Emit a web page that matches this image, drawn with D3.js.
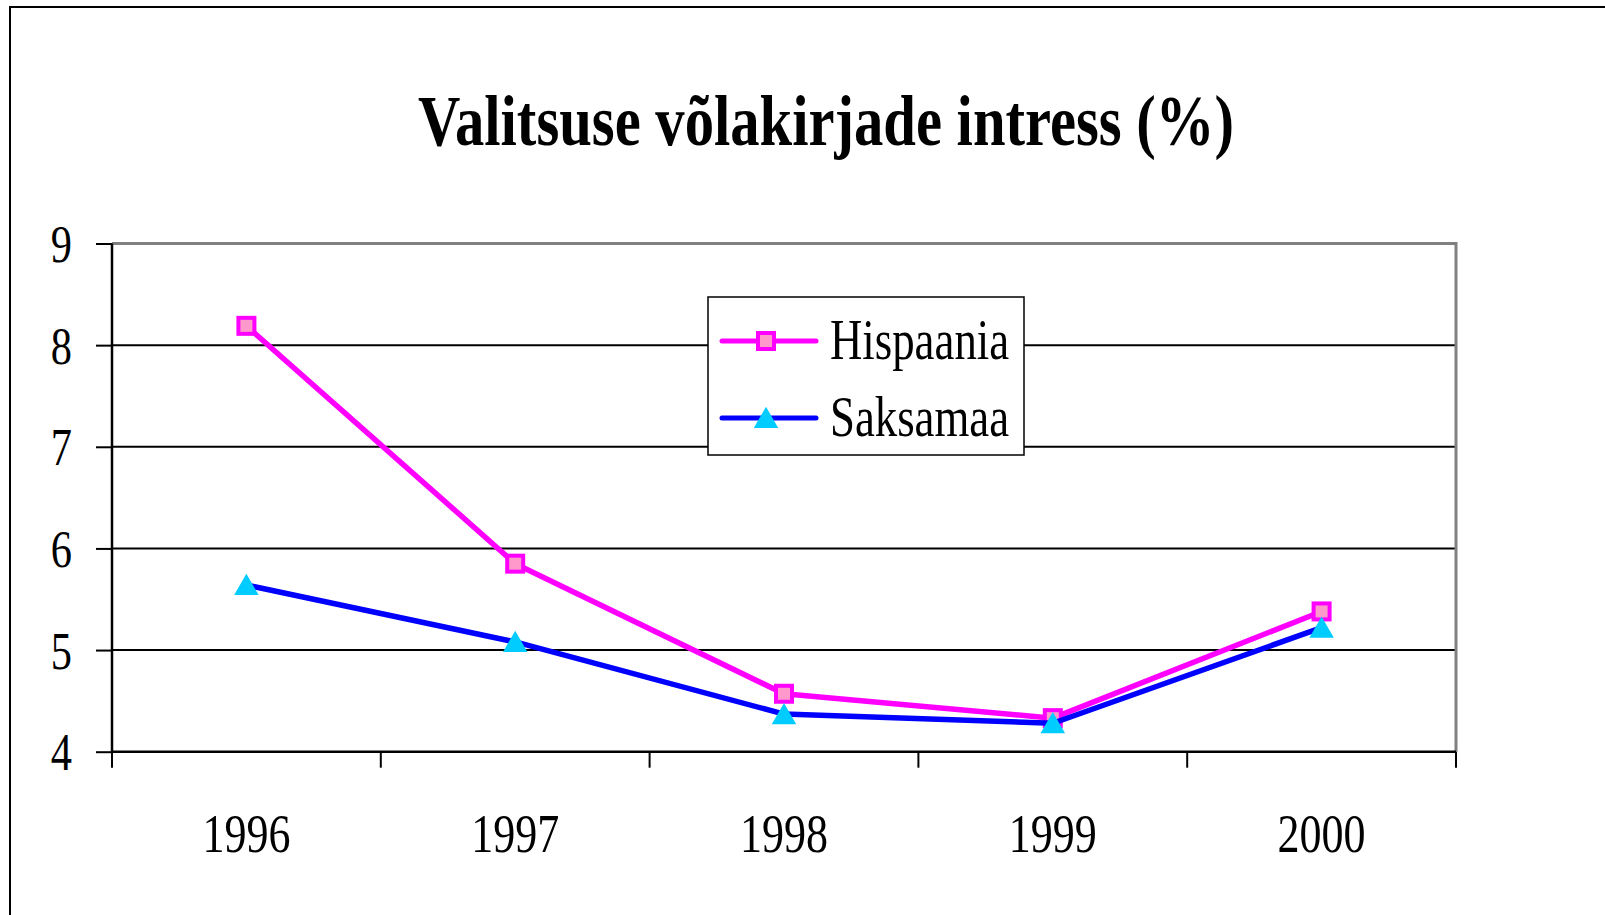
<!DOCTYPE html>
<html>
<head>
<meta charset="utf-8">
<script src="https://cdn.jsdelivr.net/npm/d3@7"></script>
<style>
  html, body { margin: 0; padding: 0; background: #fff; }
  svg { display: block; }
  text { font-family: "Liberation Serif", "Times New Roman", serif; fill: #000; }
</style>
</head>
<body>
<div class="chart"></div>
<script>
var width = 1605;
var height = 915;

// andmed
var years = ['1996', '1997', '1998', '1999', '2000'];
var hispaania = [8.19, 5.85, 4.57, 4.33, 5.38];
var saksamaa = [5.64, 5.08, 4.37, 4.28, 5.22];
var yTicks = [4, 5, 6, 7, 8, 9];
var seriesNames = ['Hispaania', 'Saksamaa'];
var title = 'Valitsuse võlakirjade intress (%)';

var plot = { left: 112, right: 1456, top: 243.5, bottom: 751.7 };
var squeeze = 0.8; // kitsam kiri nagu originaalis

var svg = d3.select('.chart')
    .append('svg')
    .attr('width', width)
    .attr('height', height);

// välimine raam
svg.append('rect')
    .attr('x', 10)
    .attr('y', 7)
    .attr('width', width + 20)
    .attr('height', height + 20)
    .attr('fill', 'none')
    .attr('stroke', '#000')
    .attr('stroke-width', 2);

// pealkiri
svg.append('text')
    .attr('x', 826)
    .attr('y', 145)
    .attr('text-anchor', 'middle')
    .attr('font-size', 72)
    .attr('font-weight', 'bold')
    .attr('textLength', 816)
    .attr('lengthAdjust', 'spacingAndGlyphs')
    .text(title);

var x = d3.scaleBand()
    .domain(years)
    .range([plot.left, plot.right]);

var y = d3.scaleLinear()
    .domain([4, 9])
    .range([plot.bottom, plot.top]);

// ruudustik
svg.append('g')
    .selectAll('line')
    .data(yTicks.filter(d => d > 4 && d < 9))
    .enter()
    .append('line')
    .attr('x1', plot.left)
    .attr('x2', plot.right)
    .attr('y1', d => y(d))
    .attr('y2', d => y(d))
    .attr('stroke', '#000')
    .attr('stroke-width', 2);

// joonise ala hall raam (ülemine ja parem serv)
svg.append('path')
    .attr('d', `M${plot.left},${plot.top}H${plot.right}V${plot.bottom}`)
    .attr('fill', 'none')
    .attr('stroke', '#808080')
    .attr('stroke-width', 3);

// y telg
var yAxis = svg.append('g')
    .attr('transform', `translate(${plot.left},0)`)
    .call(d3.axisLeft(y).tickValues(yTicks).tickSize(16).tickFormat(d3.format('d')));
yAxis.select('.domain').attr('stroke', '#000').attr('stroke-width', 2.5)
    .attr('d', `M0,${plot.top}V${plot.bottom}`);
yAxis.selectAll('.tick line').attr('stroke', '#000').attr('stroke-width', 2);
yAxis.selectAll('.tick text')
    .attr('x', null)
    .attr('dy', null)
    .attr('font-size', 53)
    .attr('y', 18)
    .attr('text-anchor', 'end')
    .attr('transform', `translate(-40,0) scale(${squeeze},1)`)
    .style('font-family', '"Liberation Serif", "Times New Roman", serif');

// x telg: kriipsud kategooriate vahel
var xEdges = years.map(d => x(d)).concat([plot.right]);
var xAxis = svg.append('g');
xAxis.append('line')
    .attr('x1', plot.left)
    .attr('x2', plot.right)
    .attr('y1', plot.bottom)
    .attr('y2', plot.bottom)
    .attr('stroke', '#000')
    .attr('stroke-width', 2.5);
xAxis.selectAll('.xtick')
    .data(xEdges)
    .enter()
    .append('line')
    .attr('class', 'xtick')
    .attr('x1', d => d)
    .attr('x2', d => d)
    .attr('y1', plot.bottom)
    .attr('y2', plot.bottom + 16)
    .attr('stroke', '#000')
    .attr('stroke-width', 2);
xAxis.selectAll('.xlabel')
    .data(years)
    .enter()
    .append('text')
    .attr('class', 'xlabel')
    .attr('text-anchor', 'middle')
    .attr('font-size', 55)
    .attr('transform', d => `translate(${x(d) + x.bandwidth() / 2},851.7) scale(${squeeze},1)`)
    .text(d => d);

var line = d3.line()
    .x((d, i) => x(years[i]) + x.bandwidth() / 2)
    .y(d => y(d));

var triangle = d3.symbol().type(d3.symbolTriangle).size(260);

// Hispaania
svg.append('path')
    .datum(hispaania)
    .attr('d', line)
    .attr('fill', 'none')
    .attr('stroke', '#FF00FF')
    .attr('stroke-width', 5.5)
    .attr('stroke-linejoin', 'round');
svg.append('g')
    .selectAll('rect')
    .data(hispaania)
    .enter()
    .append('rect')
    .attr('x', (d, i) => x(years[i]) + x.bandwidth() / 2 - 8)
    .attr('y', d => y(d) - 8)
    .attr('width', 16)
    .attr('height', 16)
    .attr('fill', '#FF99CC')
    .attr('stroke', '#FF00FF')
    .attr('stroke-width', 4);

// Saksamaa
svg.append('path')
    .datum(saksamaa)
    .attr('d', line)
    .attr('fill', 'none')
    .attr('stroke', '#0000FF')
    .attr('stroke-width', 5.5)
    .attr('stroke-linejoin', 'round');
svg.append('g')
    .selectAll('path')
    .data(saksamaa)
    .enter()
    .append('path')
    .attr('d', triangle)
    .attr('transform', (d, i) => `translate(${x(years[i]) + x.bandwidth() / 2},${y(d) + 3})`)
    .attr('fill', '#00CCFF');

// legend
var legend = svg.append('g').attr('transform', 'translate(708,297)');
legend.append('rect')
    .attr('width', 316)
    .attr('height', 158)
    .attr('fill', '#fff')
    .attr('stroke', '#000')
    .attr('stroke-width', 1.5);

var rows = legend.selectAll('.row')
    .data(seriesNames)
    .enter()
    .append('g')
    .attr('class', 'row')
    .attr('transform', (d, i) => `translate(0,${44 + i * 77})`);
rows.append('line')
    .attr('x1', 14)
    .attr('x2', 108)
    .attr('stroke', (d, i) => i === 0 ? '#FF00FF' : '#0000FF')
    .attr('stroke-width', 5)
    .attr('stroke-linecap', 'round');
rows.filter((d, i) => i === 0)
    .append('rect')
    .attr('x', 50)
    .attr('y', -8)
    .attr('width', 16)
    .attr('height', 16)
    .attr('fill', '#FF99CC')
    .attr('stroke', '#FF00FF')
    .attr('stroke-width', 4);
rows.filter((d, i) => i === 1)
    .append('path')
    .attr('d', triangle)
    .attr('transform', 'translate(58,3)')
    .attr('fill', '#00CCFF');
rows.append('text')
    .attr('font-size', 56)
    .attr('transform', `translate(122,18) scale(${squeeze},1)`)
    .text(d => d);
</script>
</body>
</html>
